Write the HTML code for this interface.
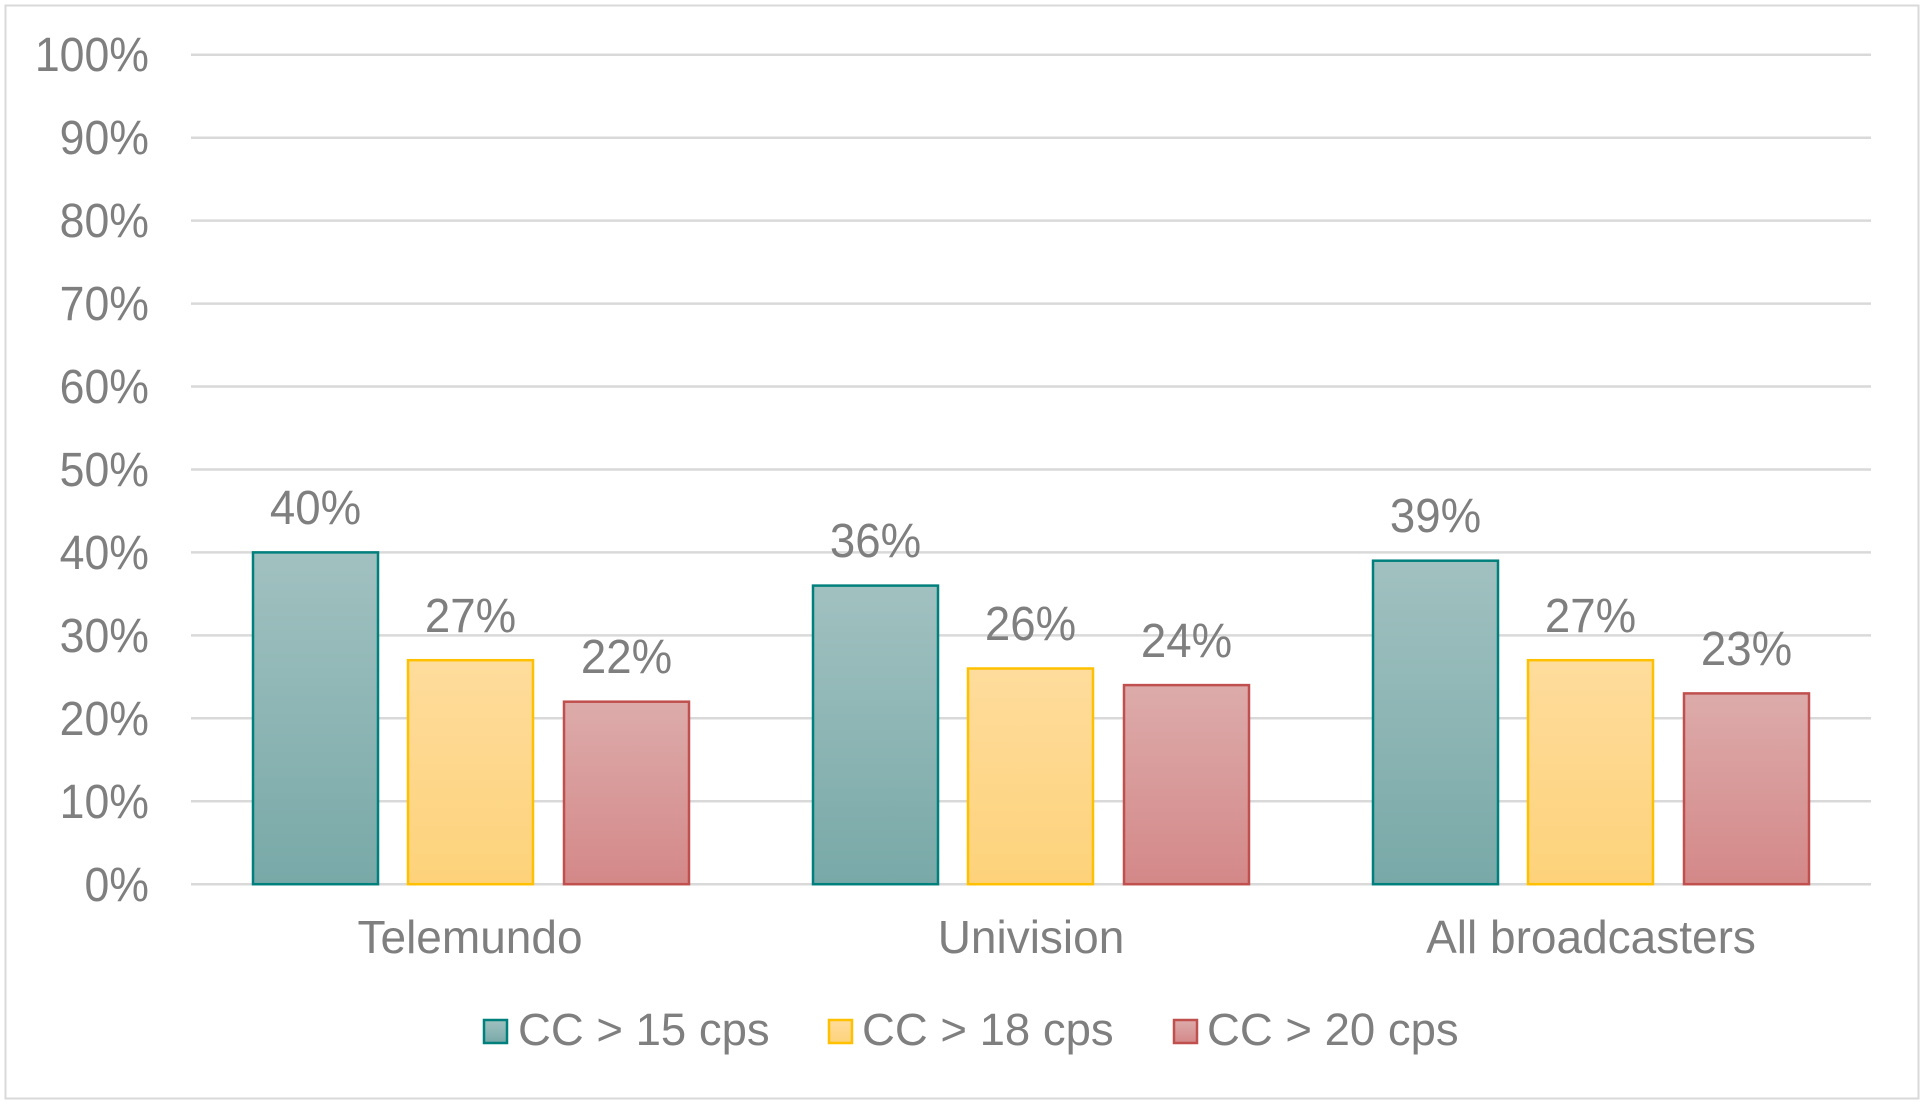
<!DOCTYPE html>
<html><head><meta charset="utf-8"><style>
html,body{margin:0;padding:0;background:#fff;}
svg{display:block;font-family:"Liberation Sans",Arial,sans-serif;}
</style></head><body>
<svg width="1925" height="1109" viewBox="0 0 1925 1109" xmlns="http://www.w3.org/2000/svg">
<defs>
<linearGradient id="gt" x1="0" y1="0" x2="0" y2="1"><stop offset="0" stop-color="#a1c1c0"/><stop offset="1" stop-color="#78a9a8"/></linearGradient>
<linearGradient id="gy" x1="0" y1="0" x2="0" y2="1"><stop offset="0" stop-color="#fedc9c"/><stop offset="1" stop-color="#fdd27a"/></linearGradient>
<linearGradient id="gr" x1="0" y1="0" x2="0" y2="1"><stop offset="0" stop-color="#ddabab"/><stop offset="1" stop-color="#d48888"/></linearGradient>
</defs>
<rect x="5.5" y="5.5" width="1913" height="1093" fill="#fff" stroke="#d9d9d9" stroke-width="2"/>
<g stroke="#d9d9d9" stroke-width="2.5">
<line x1="191" x2="1871" y1="54.7" y2="54.7"/>
<line x1="191" x2="1871" y1="137.7" y2="137.7"/>
<line x1="191" x2="1871" y1="220.6" y2="220.6"/>
<line x1="191" x2="1871" y1="303.6" y2="303.6"/>
<line x1="191" x2="1871" y1="386.5" y2="386.5"/>
<line x1="191" x2="1871" y1="469.5" y2="469.5"/>
<line x1="191" x2="1871" y1="552.4" y2="552.4"/>
<line x1="191" x2="1871" y1="635.4" y2="635.4"/>
<line x1="191" x2="1871" y1="718.3" y2="718.3"/>
<line x1="191" x2="1871" y1="801.3" y2="801.3"/>
<line x1="191" x2="1871" y1="884.2" y2="884.2"/>
</g>
<g fill="#7f7f7f" font-size="48" text-anchor="end">
<text transform="translate(149,71) scale(0.93,1)">100%</text>
<text transform="translate(149,154) scale(0.93,1)">90%</text>
<text transform="translate(149,237) scale(0.93,1)">80%</text>
<text transform="translate(149,320) scale(0.93,1)">70%</text>
<text transform="translate(149,403) scale(0.93,1)">60%</text>
<text transform="translate(149,486) scale(0.93,1)">50%</text>
<text transform="translate(149,569) scale(0.93,1)">40%</text>
<text transform="translate(149,652) scale(0.93,1)">30%</text>
<text transform="translate(149,735) scale(0.93,1)">20%</text>
<text transform="translate(149,818) scale(0.93,1)">10%</text>
<text transform="translate(149,901) scale(0.93,1)">0%</text>
</g>
<g stroke-width="2.5">
<rect x="253" y="552.4" width="125" height="331.8" fill="url(#gt)" stroke="#00807c"/>
<rect x="408" y="660.2" width="125" height="224" fill="url(#gy)" stroke="#ffc000"/>
<rect x="564" y="701.7" width="125" height="182.5" fill="url(#gr)" stroke="#c0504d"/>
<rect x="813" y="585.6" width="125" height="298.6" fill="url(#gt)" stroke="#00807c"/>
<rect x="968" y="668.5" width="125" height="215.7" fill="url(#gy)" stroke="#ffc000"/>
<rect x="1124" y="685.1" width="125" height="199.1" fill="url(#gr)" stroke="#c0504d"/>
<rect x="1373" y="560.7" width="125" height="323.5" fill="url(#gt)" stroke="#00807c"/>
<rect x="1528" y="660.2" width="125" height="224" fill="url(#gy)" stroke="#ffc000"/>
<rect x="1684" y="693.4" width="125" height="190.8" fill="url(#gr)" stroke="#c0504d"/>
</g>
<g fill="#7f7f7f" font-size="48" text-anchor="middle">
<text transform="translate(315.5,524) scale(0.95,1)">40%</text>
<text transform="translate(470.5,632) scale(0.95,1)">27%</text>
<text transform="translate(626.5,673) scale(0.95,1)">22%</text>
<text transform="translate(875.5,557) scale(0.95,1)">36%</text>
<text transform="translate(1030.5,640) scale(0.95,1)">26%</text>
<text transform="translate(1186.5,657) scale(0.95,1)">24%</text>
<text transform="translate(1435.5,532) scale(0.95,1)">39%</text>
<text transform="translate(1590.5,632) scale(0.95,1)">27%</text>
<text transform="translate(1746.5,665) scale(0.95,1)">23%</text>
</g>
<g fill="#7f7f7f" font-size="46" text-anchor="middle">
<text transform="translate(470,953) scale(1.0,1)">Telemundo</text>
<text transform="translate(1031,953) scale(1.0,1)">Univision</text>
<text transform="translate(1591,953) scale(1.0,1)">All broadcasters</text>
</g>
<g stroke-width="2.5">
<rect x="484" y="1020" width="23" height="23" fill="url(#gt)" stroke="#00807c"/>
<rect x="829" y="1020" width="23" height="23" fill="url(#gy)" stroke="#ffc000"/>
<rect x="1174" y="1020" width="23" height="23" fill="url(#gr)" stroke="#c0504d"/>
</g>
<g fill="#7f7f7f" font-size="45.5">
<text x="518" y="1045">CC &gt; 15 cps</text>
<text x="862" y="1045">CC &gt; 18 cps</text>
<text x="1207" y="1045">CC &gt; 20 cps</text>
</g>
</svg>
</body></html>
